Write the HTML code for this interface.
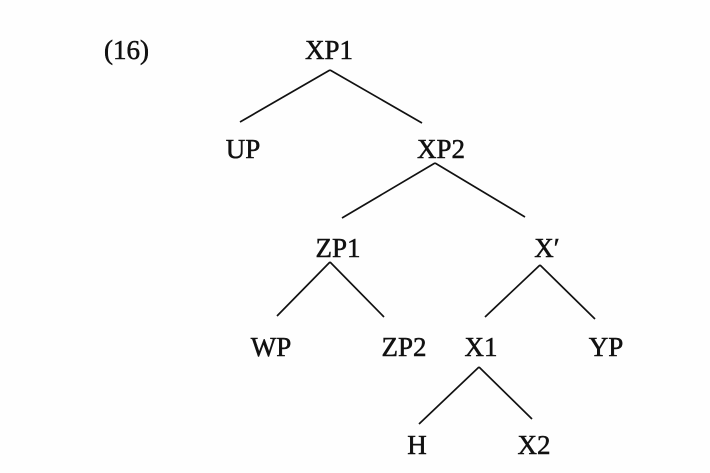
<!DOCTYPE html>
<html><head><style>
html,body{margin:0;padding:0;background:#fff;}
svg{display:block;}
text{font-family:"Liberation Serif",serif;font-size:27px;fill:#111;stroke:#111;stroke-width:0.5;}
line{stroke:#111;stroke-width:1.7;}
</style></head><body>
<svg width="710" height="473" viewBox="0 0 710 473">
<rect width="710" height="473" fill="#fefefe"/>
<text x="104" y="59">(16)</text>
<g text-anchor="middle">
<text x="329" y="59">XP1</text>
<text x="243" y="158">UP</text>
<text x="441" y="158">XP2</text>
<text x="338" y="257">ZP1</text>
<text x="547" y="257">X′</text>
<text x="271" y="356">WP</text>
<text x="404" y="356">ZP2</text>
<text x="481" y="356">X1</text>
<text x="606" y="356">YP</text>
<text x="417" y="454">H</text>
<text x="534" y="454">X2</text>
</g>
<line x1="330" y1="70" x2="240" y2="122"/>
<line x1="330" y1="70" x2="422" y2="123"/>
<line x1="435" y1="163" x2="342" y2="218"/>
<line x1="435" y1="163" x2="525" y2="217"/>
<line x1="330" y1="262" x2="277" y2="316"/>
<line x1="330" y1="262" x2="384" y2="317"/>
<line x1="540" y1="265" x2="485" y2="317"/>
<line x1="540" y1="265" x2="595" y2="319"/>
<line x1="479" y1="367" x2="419" y2="424"/>
<line x1="479" y1="367" x2="532" y2="419"/>
</svg>
</body></html>
